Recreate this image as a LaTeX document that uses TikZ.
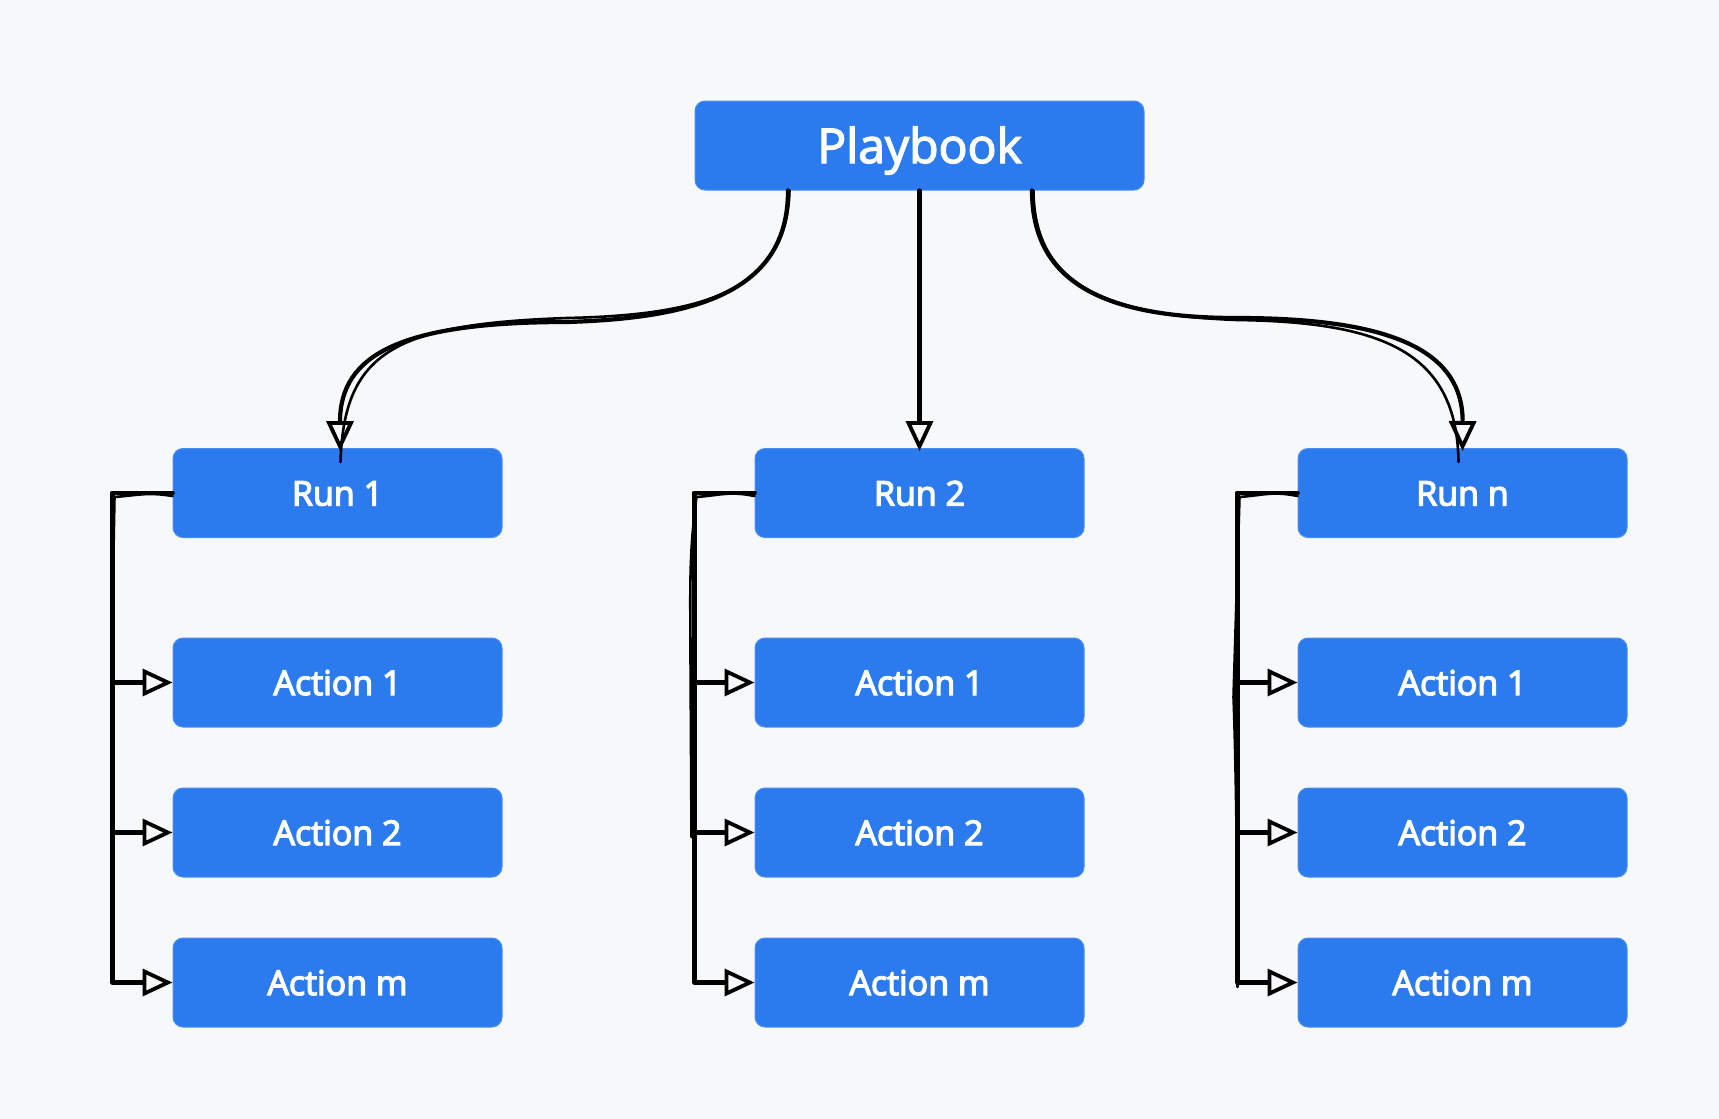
\documentclass[tikz,border=0pt]{standalone}
\usepackage{fontspec}
\setmainfont{Open Sans}
\newcommand\heavytxt[1]{\special{pdf:literal direct 2 Tr 1.3 w 1 1 1 RG}#1\special{pdf:literal direct 0 Tr}}
\usetikzlibrary{arrows.meta,calc}
\definecolor{bgc}{HTML}{F7F8FA}
\definecolor{boxc}{HTML}{2B7BEE}
\definecolor{boxedge}{HTML}{4A8EF0}
\begin{document}
\begin{tikzpicture}[x=1pt,y=-1pt,
  box/.style={rectangle,rounded corners=10pt,fill=boxc,draw=boxedge,line width=1pt,
    minimum width=329pt,minimum height=89pt,inner sep=0pt,text=white,
    font=\fontsize{34}{40}\selectfont,text height=25pt,text depth=0pt},
  bigbox/.style={box,minimum width=449pt,font=\fontsize{48}{56}\selectfont,text height=35pt},
  conn/.style={line width=4.2pt,line cap=round,line join=round,
    -{Triangle[open,length=30pt,width=27pt,line width=3.8pt]}},
  sketch/.style={line width=2.6pt,line cap=round}]
\fill[bgc] (0,0) rectangle (1719,1119);
\useasboundingbox (0,0) rectangle (1719,1119);

\node[bigbox] (pb) at (919.5,145.5) {\heavytxt{Playbook}};

\node[box] (r1) at (337.5,493) {\heavytxt{Run 1}};
\node[box] (r2) at (919.5,493) {\heavytxt{Run 2}};
\node[box] (rn) at (1462.5,493) {\heavytxt{Run n}};

\foreach \c/\x in {1/337.5,2/919.5,n/1462.5}{
  \node[box] (a\c1) at (\x,682.5) {\heavytxt{Action 1}};
  \node[box] (a\c2) at (\x,832.5) {\heavytxt{Action 2}};
  \node[box] (a\c m) at (\x,982.5) {\heavytxt{Action m}};
}

% Playbook to runs
\draw[conn] ([xshift=-131.5]pb.south) .. controls (788,290) and (700,318) .. (567,322)
  .. controls (400,322) and (340,355) .. ([xshift=2.5,yshift=-3]r1.north);
\draw[sketch] ([xshift=-130]pb.south) .. controls (787,292) and (702,315) .. (567,318)
  .. controls (394,324) and (344,352) .. ([xshift=3,yshift=-14]r1.north);
\draw[conn] (pb.south) -- ([yshift=-3]r2.north);
\draw[conn] ([xshift=112.5]pb.south) .. controls (1032,280) and (1100,318) .. (1237,318)
  .. controls (1390,318) and (1463,350) .. ([yshift=-3]rn.north);
\draw[sketch] ([xshift=114]pb.south) .. controls (1034,283) and (1103,315) .. (1237,320)
  .. controls (1383,322) and (1457,352) .. ([xshift=-4,yshift=-14]rn.north);

% Runs to actions
\foreach \c in {1,2,n}{
  \draw[conn] (r\c.west) -- ++(-60,0) |- (a\c1.west);
  \draw[conn] (r\c.west) -- ++(-60,0) |- (a\c2.west);
  \draw[conn] (r\c.west) -- ++(-60,0) |- (a\c m.west);
}
\draw[sketch] ([yshift=-3]r1.west) .. controls ++(-25,-4) and ++(25,-2) .. ++(-58,1) -- ++(-3,160) -- ++(1,180);
\draw[sketch] ([yshift=-3]r2.west) .. controls ++(-25,-5) and ++(25,-2) .. ++(-58,1) .. controls ++(-8,60) and ++(0,-60) .. ++(-6,160) -- ++(1,180);
\draw[sketch] ([yshift=-3]rn.west) .. controls ++(-25,-5) and ++(25,-2) .. ++(-58,1) -- ++(-6,200) .. controls ++(3,80) and ++(0,-80) .. ++(4,290);
\end{tikzpicture}
\end{document}
